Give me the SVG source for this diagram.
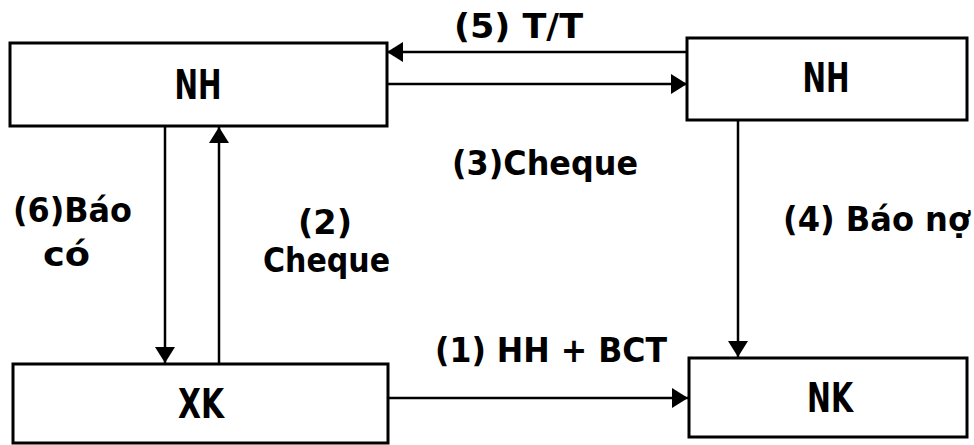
<svg xmlns="http://www.w3.org/2000/svg" width="974" height="445" viewBox="0 0 974 445">
<style>
.box{fill:#fff;stroke:#000;stroke-width:3}
.nt{font-family:"DejaVu Sans","Liberation Sans",sans-serif;font-weight:bold;font-size:40px;fill:#000;text-anchor:middle}
.lb{font-family:"DejaVu Sans","Liberation Sans",sans-serif;font-weight:bold;font-size:33px;fill:#000}
.ln{stroke:#000;stroke-width:2.5;fill:none;marker-end:url(#ah)}
</style>
<defs>
<marker id="ah" markerUnits="userSpaceOnUse" viewBox="0 0 16 20" refX="16" refY="10" markerWidth="16" markerHeight="20" orient="auto">
<path d="M0,0 L16,10 L0,20 Z" fill="#000"/>
</marker>
</defs>
<rect width="974" height="445" fill="#fff"/>
<g id="connectors">
<line class="ln" x1="687" y1="52" x2="387" y2="52"/>
<line class="ln" x1="387" y1="84" x2="687" y2="84"/>
<line class="ln" x1="165" y1="126" x2="165" y2="363"/>
<line class="ln" x1="219" y1="364" x2="219" y2="127"/>
<line class="ln" x1="738" y1="120" x2="738" y2="357"/>
<line class="ln" x1="388" y1="398" x2="688" y2="398"/>
</g>
<g id="labels">
<text class="lb" x="454" y="38" textLength="129" lengthAdjust="spacingAndGlyphs">(5) T/T</text>
<text class="lb" x="452" y="175" textLength="186" lengthAdjust="spacingAndGlyphs">(3)Cheque</text>
<text class="lb" x="783" y="231" textLength="187" lengthAdjust="spacingAndGlyphs">(4) Báo nợ</text>
<text class="lb" x="435" y="362" textLength="232" lengthAdjust="spacingAndGlyphs">(1) HH + BCT</text>
<text class="lb" x="13" y="222" textLength="119" lengthAdjust="spacingAndGlyphs">(6)Báo</text>
<text class="lb" x="43" y="266" textLength="47" lengthAdjust="spacingAndGlyphs">có</text>
<text class="lb" x="298" y="234" textLength="54" lengthAdjust="spacingAndGlyphs">(2)</text>
<text class="lb" x="263" y="272" textLength="127" lengthAdjust="spacingAndGlyphs">Cheque</text>
</g>
<g id="nh-xk">
<rect class="box" x="10" y="43" width="377" height="83"/>
<text class="nt" x="198" y="99" textLength="47" lengthAdjust="spacingAndGlyphs">NH</text>
</g>
<g id="nh-nk">
<rect class="box" x="687" y="38" width="280" height="82"/>
<text class="nt" x="826" y="92" textLength="47" lengthAdjust="spacingAndGlyphs">NH</text>
</g>
<g id="xk">
<rect class="box" x="13" y="364" width="375" height="79"/>
<text class="nt" x="201" y="418" textLength="46" lengthAdjust="spacingAndGlyphs">XK</text>
</g>
<g id="nk">
<rect class="box" x="689" y="358" width="278" height="79"/>
<text class="nt" x="830" y="412" textLength="46" lengthAdjust="spacingAndGlyphs">NK</text>
</g>
</svg>
